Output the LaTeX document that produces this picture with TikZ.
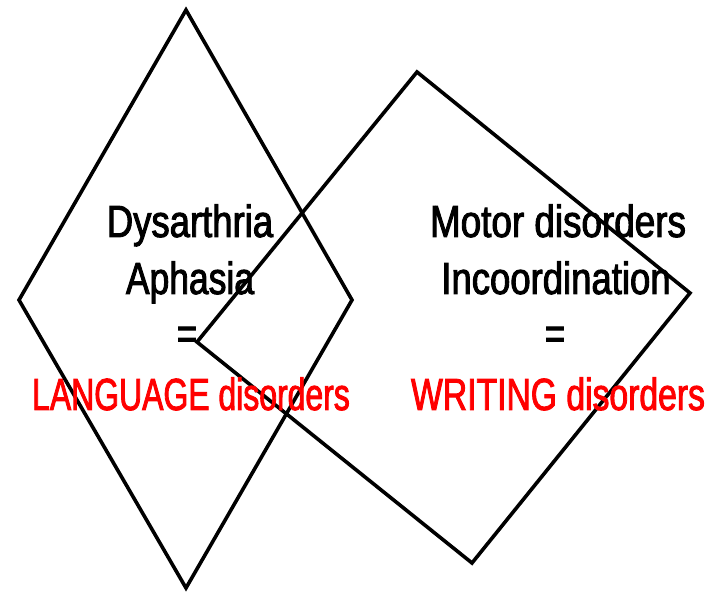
\documentclass[tikz,border=0pt]{standalone}
\usepackage{fontspec}
\setmainfont{Liberation Sans}[FakeStretch=0.78,FakeBold=2]
\begin{document}
\begin{tikzpicture}[x=1pt,y=1pt,
  shp/.style={draw=black,line width=3.6pt,line join=miter},
  lbl/.style={anchor=base,inner sep=0pt,font=\fontsize{45}{45}\selectfont},
  red/.style={text={rgb,255:red,255;green,0;blue,0}}]
\useasboundingbox (0,0) rectangle (710,592);
\draw[shp] (186,582) -- (352,292) -- (186,4) -- (19,292) -- cycle;
\draw[shp] (417,520) -- (690,299) -- (472,29) -- (197,250) -- cycle;
\node[lbl] (d) at (190,355) {\scalebox{1.04}[1]{Dysarthria}};
\node[lbl] (a) at (190,298) {\scalebox{1.01}[1]{Aphasia}};
\node[lbl] (e1) at (187,243) {=};
\node[lbl,red] (l) at (191,182) {\scalebox{0.91}[1]{LANGUAGE disorders}};
\node[lbl] (m) at (558,355) {\scalebox{1.05}[1]{Motor disorders}};
\node[lbl] (i) at (556,298) {\scalebox{1.04}[1]{Incoordination}};
\node[lbl] (e2) at (555,243) {=};
\node[lbl,red] (w) at (558,182) {\scalebox{0.96}[1]{WRITING disorders}};
\end{tikzpicture}
\end{document}
